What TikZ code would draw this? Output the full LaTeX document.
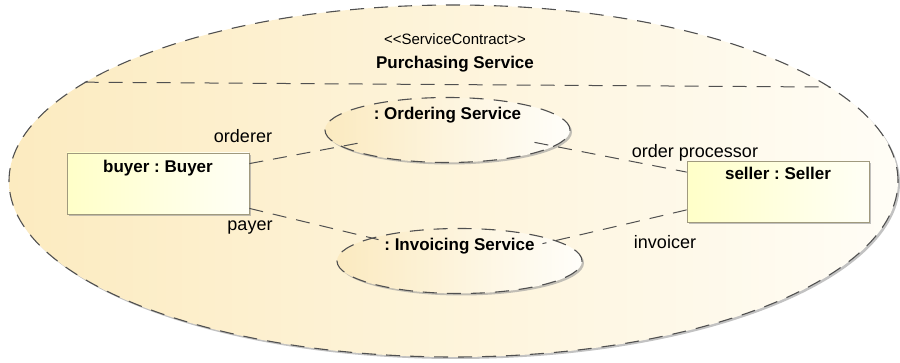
\documentclass[tikz,border=0pt]{standalone}
\usepackage{fontspec}
\setmainfont{Liberation Sans}
\usetikzlibrary{shapes.geometric, positioning, calc, shadows}
\frenchspacing

\definecolor{contractL}{RGB}{252,235,192}
\definecolor{contractM}{RGB}{254,244,220}
\definecolor{contractR}{RGB}{255,253,246}
\definecolor{useL}{RGB}{251,234,192}
\definecolor{useR}{RGB}{255,254,250}
\definecolor{partL}{RGB}{255,255,200}
\definecolor{partR}{RGB}{255,255,246}
\definecolor{outline}{RGB}{80,80,80}
\definecolor{boxline}{RGB}{160,154,126}

\begin{document}
\begin{tikzpicture}[
    x=1pt, y=-1pt,
    dashes/.style={dash pattern=on 14pt off 10pt},
    shade/.style={drop shadow={shadow xshift=2pt, shadow yshift=-2pt, fill=black!40, opacity=0.6}},
    contract/.style={draw=outline, ellipse, dashes, line width=1.1pt, left color=contractL, middle color=contractM, right color=contractR, minimum width=889pt, minimum height=352pt, inner sep=0pt, shade},
    usage/.style={draw=outline, ellipse, dashes, line width=1.1pt, left color=useL, right color=useR, minimum width=245pt, minimum height=65pt, inner sep=0pt, shade},
    part/.style={draw=boxline, rectangle, line width=0.8pt, left color=partL, right color=partR, minimum width=182pt, minimum height=61pt, inner sep=0pt, shade},
    title/.style={font=\fontsize{17}{20}\selectfont\bfseries, inner sep=2pt},
    role/.style={font=\fontsize{18}{21}\selectfont, inner sep=0pt, anchor=base},
    link/.style={draw=outline, line width=1pt, dashes}
]
\useasboundingbox (0,0) rectangle (900,363);

% Nodes
\node (purchasing) [contract] at (453.5,181) {};
\node (stereo) [font=\fontsize{15}{18}\selectfont, inner sep=0pt, anchor=base] at (455,45) {<\kern0pt<ServiceContract>\kern0pt>};
\node (pname) [title, inner sep=0pt, anchor=base] at (455,69) {Purchasing Service};
\node (ordering) [usage, label={[title, anchor=north, yshift=-8pt]north:{: Ordering Service}}] at (447.5,130) {};
\node (invoicing) [usage, label={[title, anchor=north, yshift=-8pt]north:{: Invoicing Service}}] at (459.5,261) {};
\node (buyer) [part, label={[title, anchor=north, yshift=-5pt]north:{buyer : Buyer}}] at (158,183.5) {};
\node (seller) [part, label={[title, anchor=north, yshift=-4pt]north:{seller : Seller}}] at (778,192) {};

% Role labels
\node (orderer) [role] at (243,143) {orderer};
\node (payer) [role] at (250,231) {payer};
\node (processor) [role] at (695,158) {order processor};
\node (invoicer) [role] at (665,249) {invoicer};

% Links
\draw[link] (purchasing.165.5) -- (purchasing.14.5);
\draw[link] ($(buyer.north east)+(0,11)$) -- ($(ordering.south west)+(2,-11)$);
\draw[link] ($(buyer.south east)+(0,-6)$) -- ($(invoicing.north west)+(6,2)$);
\draw[link] ($(ordering.south east)+(0,-11)$) -- ($(seller.north west)+(0,11)$);
\draw[link] ($(seller.south west)+(0,-13)$) -- ($(invoicing.north east)+(-4,6)$);

\end{tikzpicture}
\end{document}
